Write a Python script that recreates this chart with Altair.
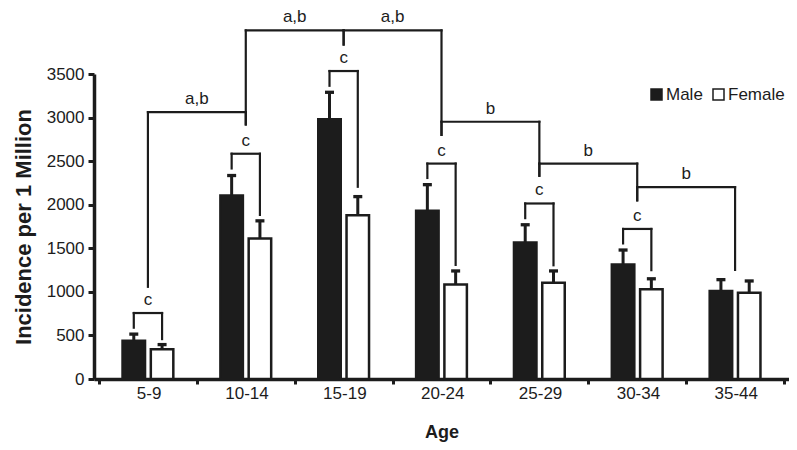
import json
import altair as alt
import pandas as pd

# ---------------- data ----------------
categories = ["5-9", "10-14", "15-19", "20-24", "25-29", "30-34", "35-44"]
male = [440, 2105, 2980, 1930, 1565, 1315, 1010]
male_err = [515, 2335, 3290, 2230, 1770, 1480, 1140]
female = [340, 1612, 1880, 1085, 1105, 1030, 990]
female_err = [395, 1815, 2093, 1240, 1240, 1150, 1125]

# "c" brackets (male vs female within an age group)
c_level = [757, 2585, 3534, 2472, 2014, 1722]
c_male_bottom = [589, 2416, 3365, 2307, 1846, 1556]
c_female_bottom = [458, 1883, 2206, 1309, 1305, 1249]
c_label = ["c", "c", "c", "c", "c", "c"]

# brackets between neighbouring age groups
group_from = [0, 1, 2, 3, 4, 5]
group_to = [1, 2, 3, 4, 5, 6]
group_level = [3063, 4000, 4000, 2952, 2472, 2202]
group_left_bottom = [1058, 2921, 3838, 2801, 2332, 2050]
group_right_bottom = [2921, 3838, 2801, 2332, 2050, 1252]
group_label = ["a,b", "a,b", "a,b", "b", "b", "b"]

y_ticks = [0, 500, 1000, 1500, 2000, 2500, 3000, 3500]

# ---------------- layout / style ----------------
BLACK = "#1c1c1c"
FONT = "Liberation Sans"
W, H = 695, 305
N = len(categories)
HALF = 0.1445  # half distance between paired bars, in category units
BAND_PX = W / N


def center(i):
    return i + 0.5


bar_rows = []
for i, c in enumerate(categories):
    bar_rows.append({"cat": c, "sex": "Male", "x": center(i) - HALF, "value": male[i], "err": male_err[i]})
    bar_rows.append({"cat": c, "sex": "Female", "x": center(i) + HALF, "value": female[i], "err": female_err[i]})
bars_df = pd.DataFrame(bar_rows)

seg_rows = []
lab_rows = []
for i in range(len(c_level)):
    xm, xf = center(i) - HALF, center(i) + HALF
    seg_rows.append({"x": xm, "x2": xm, "y": c_male_bottom[i], "y2": c_level[i]})
    seg_rows.append({"x": xf, "x2": xf, "y": c_female_bottom[i], "y2": c_level[i]})
    seg_rows.append({"x": xm, "x2": xf, "y": c_level[i], "y2": c_level[i]})
    lab_rows.append({"x": center(i), "y": c_level[i], "text": c_label[i]})
for k in range(len(group_from)):
    xa, xb = center(group_from[k]), center(group_to[k])
    seg_rows.append({"x": xa, "x2": xa, "y": group_left_bottom[k], "y2": group_level[k]})
    seg_rows.append({"x": xb, "x2": xb, "y": group_right_bottom[k], "y2": group_level[k]})
    seg_rows.append({"x": xa, "x2": xb, "y": group_level[k], "y2": group_level[k]})
    lab_rows.append({"x": (xa + xb) / 2, "y": group_level[k], "text": group_label[k]})
seg_df = pd.DataFrame(seg_rows)
lab_df = pd.DataFrame(lab_rows)

xs = alt.Scale(domain=[0, N], nice=False, zero=False)
ys = alt.Scale(domain=[0, 3500], nice=False)

label_expr = "datum.value < %d ? %s[datum.value] : ''" % (N, json.dumps(categories).replace('"', "'"))

x_axis = alt.Axis(
    values=list(range(0, N + 1)), labelExpr=label_expr, labelOffset=BAND_PX / 2,
    labelFlush=False, labelOverlap=False, labelFontSize=17, labelFont=FONT, labelColor=BLACK,
    labelPadding=1, tickSize=5, tickWidth=3, tickColor=BLACK, domainColor=BLACK,
    domainWidth=3.5, grid=False, title="Age", titleFont=FONT, titleFontSize=18,
    titleFontWeight="bold", titleColor=BLACK, titleY=58, titleBaseline="alphabetic",
)
y_axis = alt.Axis(
    values=y_ticks, format="d", labelFontSize=17, labelFont=FONT, labelColor=BLACK, labelPadding=4,
    tickSize=6, tickWidth=3, tickColor=BLACK, domainColor=BLACK, domainWidth=3.5, grid=False,
    title="Incidence per 1 Million", titleFont=FONT, titleFontSize=22, titleFontWeight="bold",
    titleColor=BLACK, titleX=-71, titleY=H / 2, titleAngle=270, titleAlign="center",
    titleBaseline="middle",
)

bars = alt.Chart(bars_df).mark_bar(orient="vertical", size=22.5, stroke=BLACK, strokeWidth=2.5).encode(
    x=alt.X("x:Q", scale=xs, axis=x_axis),
    y=alt.Y("value:Q", scale=ys, axis=y_axis, stack=None),
    fill=alt.Fill(
        "sex:N",
        scale=alt.Scale(domain=["Male", "Female"], range=[BLACK, "white"]),
        legend=alt.Legend(
            orient="none", legendX=554, legendY=12, direction="horizontal", title=None,
            symbolType="square", symbolSize=121, symbolStrokeColor=BLACK, symbolStrokeWidth=1.5,
            labelFontSize=17, labelFont=FONT, labelColor=BLACK, columnPadding=7,
            labelOffset=1, padding=0,
        ),
    ),
)

stems = alt.Chart(bars_df).mark_rule(strokeWidth=3, color=BLACK).encode(
    x=alt.X("x:Q", scale=xs, axis=x_axis),
    y=alt.Y("value:Q", scale=ys, axis=y_axis),
    y2="err:Q",
)

caps = alt.Chart(bars_df).mark_tick(orient="horizontal", size=9, thickness=3.3, color=BLACK, opacity=1).encode(
    x=alt.X("x:Q", scale=xs, axis=x_axis),
    y=alt.Y("err:Q", scale=ys, axis=y_axis),
)

segs = alt.Chart(seg_df).mark_rule(strokeWidth=2.2, color=BLACK, strokeCap="square").encode(
    x=alt.X("x:Q", scale=xs, axis=x_axis),
    x2="x2:Q",
    y=alt.Y("y:Q", scale=ys, axis=y_axis),
    y2="y2:Q",
)

labels = alt.Chart(lab_df).mark_text(
    font=FONT, fontSize=17, color=BLACK, baseline="alphabetic", align="center", dy=-8
).encode(
    x=alt.X("x:Q", scale=xs, axis=x_axis),
    y=alt.Y("y:Q", scale=ys, axis=y_axis),
    text="text:N",
)

chart = alt.layer(bars, stems, caps, segs, labels).properties(
    width=W, height=H,
    autosize=alt.AutoSizeParams(type="none"),
    padding={"left": 86, "top": 66, "right": 0, "bottom": 63},
).configure(font=FONT, background="white", view=alt.ViewConfig(stroke=None))

chart.save("out.html", embed_options={"renderer": "svg", "actions": False})
